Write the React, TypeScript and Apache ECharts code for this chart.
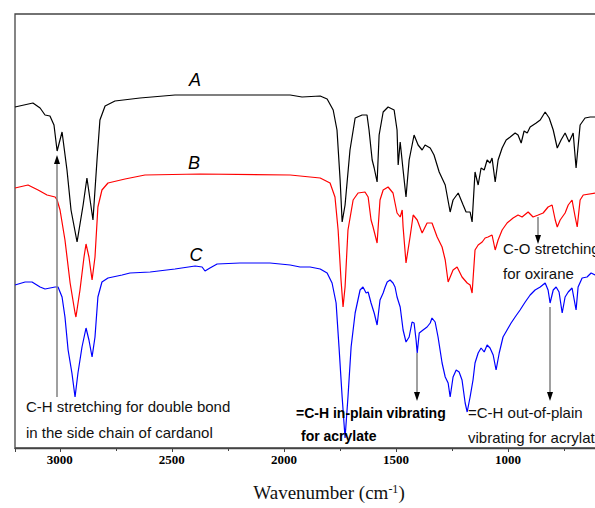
import React, { useEffect, useRef } from 'react';
import * as echarts from 'echarts';

// Curve A (black)
const aWavenumber = [3200,3120,3088,3066,3044,3026,3012,2990,2968,2950,2923,2896,2879,2852,2834,2821,2798,2754,2642,2486,2374,1972,1919,1838,1807,1780,1763,1749,1740,1727,1705,1682,1651,1629,1620,1606,1597,1584,1575,1557,1535,1508,1495,1490,1481,1468,1455,1441,1419,1401,1383,1370,1347,1330,1307,1280,1258,1245,1222,1200,1187,1169,1160,1147,1133,1120,1106,1093,1080,1071,1057,1044,1026,1008,990,968,955,941,928,914,901,874,856,834,816,798,780,763,745,727,709,696,678,656,633,611,600];
const aSignal = [341,345,340,333,332,323,297,316,278,238,206,243,270,228,288,328,342,347,350,353,353,353,351,352,349,338,318,268,226,243,298,330,333,333,318,288,280,266,313,336,341,338,318,283,306,278,251,288,313,303,298,303,300,293,276,263,236,248,255,243,236,236,226,276,263,280,278,288,285,290,266,288,300,308,311,315,313,305,317,315,321,325,328,336,330,318,300,308,315,306,315,280,323,330,331,331,331];

// Curve B (red)
const bWavenumber = [3200,3142,3097,3057,3021,3012,2999,2977,2954,2932,2928,2910,2892,2883,2870,2856,2843,2830,2812,2785,2709,2620,2374,1972,1883,1838,1794,1772,1758,1745,1736,1727,1714,1691,1669,1638,1624,1611,1602,1584,1571,1557,1535,1513,1495,1481,1472,1468,1455,1437,1423,1405,1383,1361,1339,1316,1294,1280,1267,1245,1227,1205,1182,1169,1160,1147,1133,1115,1102,1089,1071,1057,1044,1026,1004,977,955,937,910,888,865,843,821,803,789,780,767,745,731,714,700,691,678,664,611,600];
const bSignal = [260,263,258,253,251,248,238,208,165,135,131,158,191,204,191,168,191,241,258,265,269,273,274,273,271,270,265,251,218,168,141,161,218,248,255,256,251,228,221,205,248,258,261,255,235,231,238,221,185,211,233,228,215,225,225,211,201,188,166,178,181,171,165,163,155,198,203,206,210,211,213,198,208,218,225,230,233,231,236,231,233,235,241,243,228,221,228,235,243,248,231,221,248,253,255,255];

// Curve C (blue)
const cWavenumber = [3200,3155,3124,3088,3066,3021,3008,2990,2977,2963,2946,2932,2919,2901,2883,2870,2856,2843,2830,2812,2785,2722,2687,2597,2486,2396,2365,2352,2330,2298,2196,2062,1972,1928,1883,1838,1807,1785,1767,1754,1740,1727,1714,1700,1682,1660,1647,1633,1624,1611,1597,1584,1571,1557,1548,1539,1526,1513,1504,1495,1481,1468,1455,1441,1428,1419,1410,1405,1396,1379,1361,1347,1339,1325,1312,1294,1280,1267,1258,1245,1231,1218,1205,1191,1182,1169,1156,1147,1133,1120,1106,1093,1080,1066,1053,1039,1022,1004,986,968,946,923,901,879,856,834,821,812,798,785,772,758,745,731,714,696,687,669,647,629,611,600];
const cSignal = [163,166,166,161,159,161,161,151,131,98,75,51,75,101,120,108,91,111,151,166,170,173,175,176,179,182,181,177,180,184,185,185,183,181,181,179,175,165,145,101,51,10,51,101,135,158,161,155,156,145,135,123,148,155,161,166,168,165,161,151,141,118,106,111,126,125,108,95,115,118,121,125,130,126,111,85,71,65,51,71,78,76,68,45,36,51,68,85,95,100,96,103,100,93,78,95,111,118,125,131,138,146,153,158,161,165,158,145,158,161,156,135,151,156,160,138,161,170,171,175,173,173];

const tickLabels = [3000, 2500, 2000, 1500, 1000];

const pairs = (x: number[], y: number[]) => x.map((v, i) => [v, y[i]]);

const sans = 'Liberation Sans';
const serif = 'Liberation Serif';

function txt(text: string, x: number, y: number, extra: any = {}) {
  return {
    type: 'text',
    x,
    y,
    z: 100,
    style: {
      text,
      fontFamily: sans,
      fontSize: 15,
      fill: '#111',
      verticalAlign: 'middle',
      align: 'left',
      ...extra,
    },
  };
}

function arrow(x: number, y1: number, y2: number) {
  const dir = y2 > y1 ? 1 : -1;
  const base = y2 - dir * 9;
  return [
    {
      type: 'line',
      z: 99,
      shape: { x1: x, y1, x2: x, y2: base },
      style: { stroke: '#808080', lineWidth: 1.5 },
    },
    {
      type: 'polygon',
      z: 100,
      shape: { points: [[x, y2], [x - 3, base], [x + 3, base]] },
      style: { fill: '#000' },
    },
  ];
}

export default function App() {
  const ref = useRef<HTMLDivElement>(null);
  useEffect(() => {
    if (!ref.current) return;
    const chart = echarts.init(ref.current, undefined, { renderer: 'svg' });
    const axisColor = '#444';
    chart.setOption({
      animation: false,
      grid: {
        left: 15,
        top: 14,
        width: 605,
        height: 434,
        show: true,
        borderColor: axisColor,
        borderWidth: 1.3,
        containLabel: false,
        outerBoundsMode: 'none',
      },
      xAxis: [
        {
          type: 'value',
          inverse: true,
          min: 500,
          max: 3200,
          interval: 500,
          position: 'bottom',
          axisLine: { show: true, lineStyle: { color: axisColor, width: 1.3 } },
          axisTick: { show: true, length: 4, lineStyle: { color: axisColor } },
          axisLabel: {
            formatter: (v: number) => (tickLabels.indexOf(v) >= 0 ? String(v) : ''),
            fontFamily: serif,
            fontWeight: 'bold',
            fontSize: 13,
            color: '#000',
            margin: 5,
          },
          splitLine: { show: false },
        },
        {
          type: 'value',
          inverse: true,
          min: 500,
          max: 3200,
          interval: 250,
          position: 'bottom',
          axisLine: { show: false },
          axisTick: { show: true, length: 3, lineStyle: { color: axisColor } },
          axisLabel: { show: false },
          splitLine: { show: false },
        },
      ],
      yAxis: { type: 'value', min: 0, max: 434, show: false },
      series: [
        {
          name: 'A',
          type: 'line',
          xAxisIndex: 0,
          symbol: 'none',
          data: pairs(aWavenumber, aSignal),
          lineStyle: { color: '#000', width: 1.2 },
          itemStyle: { color: '#000' },
        },
        {
          name: 'B',
          type: 'line',
          xAxisIndex: 0,
          symbol: 'none',
          data: pairs(bWavenumber, bSignal),
          lineStyle: { color: '#ff0000', width: 1.2 },
          itemStyle: { color: '#ff0000' },
        },
        {
          name: 'C',
          type: 'line',
          xAxisIndex: 0,
          symbol: 'none',
          data: pairs(cWavenumber, cSignal),
          lineStyle: { color: '#0000ff', width: 1.2 },
          itemStyle: { color: '#0000ff' },
        },
      ],
      graphic: [
        txt('A', 195, 80, { fontSize: 18, fontStyle: 'italic', align: 'center', fill: '#000' }),
        txt('B', 194, 163, { fontSize: 18, fontStyle: 'italic', align: 'center', fill: '#000' }),
        txt('C', 196, 255, { fontSize: 18, fontStyle: 'italic', align: 'center', fill: '#000' }),
        ...arrow(57, 397, 155),
        ...arrow(417, 353, 401),
        ...arrow(550, 307, 401),
        ...arrow(538, 217, 244),
        txt('C-H stretching for double bond', 26, 406),
        txt('in the side chain of cardanol', 26, 432),
        txt('=C-H in-plain vibrating', 296, 413, { fontWeight: 'bold', fontSize: 14, fill: '#000' }),
        txt('for acrylate', 301, 436, { fontWeight: 'bold', fontSize: 14, fill: '#000' }),
        txt('=C-H out-of-plain', 468, 412),
        txt('vibrating for acrylate', 468, 437),
        txt('C-O stretching', 503, 248),
        txt('for oxirane', 503, 273),
        {
          type: 'text',
          x: 329,
          y: 492,
          z: 100,
          style: {
            text: '{a|Wavenumber (cm}{s|-1}{a|)}',
            align: 'center',
            verticalAlign: 'middle',
            rich: {
              a: { fontFamily: serif, fontSize: 19, fill: '#111', color: '#111' },
              s: { fontFamily: serif, fontSize: 12, fill: '#111', color: '#111', verticalAlign: 'top' },
            },
          },
        },
      ],
    });
    return () => chart.dispose();
  }, []);
  return (
    <div
      ref={ref}
      style={{ position: 'absolute', left: 0, top: 0, width: 595, height: 508, background: '#fff' }}
    />
  );
}
